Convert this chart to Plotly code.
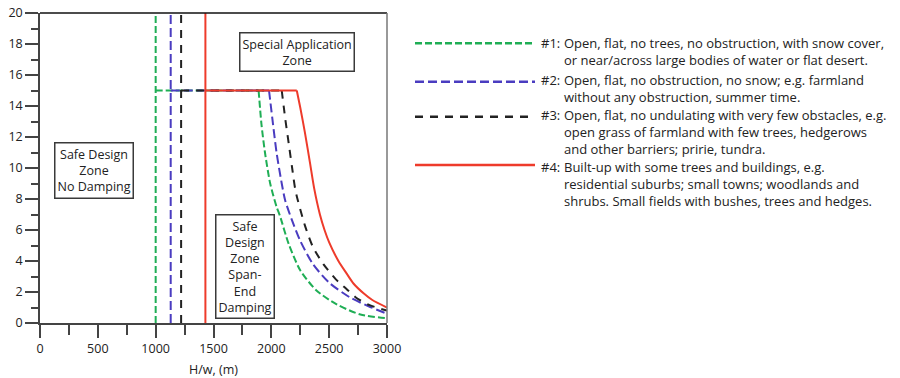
import plotly.graph_objects as go

# ---------------- data ----------------
series_names = ["#1", "#2", "#3", "#4"]
series_colors = ["#1fae55", "#4a3cc0", "#222222", "#ee3b2b"]
series_dash = ["7px,3px", "9px,4px", "8px,7px", "solid"]

# vertical limit (H/w) for each terrain category
vertical_x = [1000, 1130, 1220, 1430]
plateau_y = 15

# decaying curves (start at the knee on the plateau)
green_x = [1890, 1915, 1945, 1990, 2045, 2075, 2150, 2250, 2390, 2565, 2770, 3000]
green_y = [15.0, 12.8, 11.0, 9.0, 7.5, 6.9, 5.1, 3.4, 2.1, 1.2, 0.55, 0.3]

blue_x = [1980, 2015, 2045, 2090, 2120, 2175, 2250, 2360, 2500, 2680, 2850, 3000]
blue_y = [15.0, 12.8, 11.0, 9.0, 7.9, 6.7, 5.3, 3.8, 2.6, 1.65, 1.05, 0.6]

black_x = [2090, 2120, 2150, 2180, 2210, 2290, 2360, 2450, 2560, 2650, 2740, 2850, 3000]
black_y = [15.0, 13.2, 11.6, 10.0, 8.5, 6.3, 4.9, 3.8, 2.8, 2.2, 1.6, 1.15, 0.8]

red_x = [2220, 2250, 2290, 2335, 2370, 2420, 2460, 2500, 2580, 2650, 2710, 2800, 2870, 3000]
red_y = [15.0, 13.9, 12.3, 10.3, 8.7, 7.0, 6.0, 5.2, 4.0, 3.2, 2.55, 1.9, 1.5, 1.0]

curves_x = [green_x, blue_x, black_x, red_x]
curves_y = [green_y, blue_y, black_y, red_y]

legend_texts = [
    "Open, flat, no trees, no obstruction, with snow cover,<br>or near/across large bodies of water or flat desert.",
    "Open, flat, no obstruction, no snow; e.g. farmland<br>without any obstruction, summer time.",
    "Open, flat, no undulating with very few obstacles, e.g.<br>open grass of farmland with few trees, hedgerows<br>and other barriers; pririe, tundra.",
    "Built-up with some trees and buildings, e.g.<br>residential suburbs; small towns; woodlands and<br>shrubs. Small fields with bushes, trees and hedges.",
]

zone_texts = ["Safe Design<br>Zone<br>No Damping",
              "Special Application<br>Zone",
              "Safe<br>Design<br>Zone<br>Span-<br>End<br>Damping"]
zone_x = [471, 2222, 1768]
zone_y = [9.87, 17.5, 3.63]

x_ticks = [0, 500, 1000, 1500, 2000, 2500, 3000]
y_ticks = [0, 2, 4, 6, 8, 10, 12, 14, 16, 18, 20]

FONT = "Open Sans"
TXT = "#222222"

fig = go.Figure()
for i in range(4):
    xv = vertical_x[i]
    # vertical limit, plateau, then decaying curve
    xs = [xv, xv, None, xv, curves_x[i][0], None] + curves_x[i]
    ys = [0, 20, None, plateau_y, curves_y[i][0], None] + curves_y[i]
    fig.add_trace(go.Scatter(
        x=xs, y=ys, mode="lines", name=series_names[i], showlegend=False,
        line=dict(color=series_colors[i], width=2, dash=series_dash[i],
                  shape="spline", smoothing=0.7),
        hoverinfo="skip"))

# plot frame (top and right)
fig.add_shape(type="line", xref="paper", yref="paper", x0=0, x1=1, y0=1, y1=1,
              line=dict(color="#111111", width=1.5))
fig.add_shape(type="line", xref="paper", yref="paper", x0=1, x1=1, y0=0, y1=1,
              line=dict(color="#777777", width=1.5))

# zone labels
for t, x, y in zip(zone_texts, zone_x, zone_y):
    fig.add_annotation(x=x, y=y, xref="x", yref="y", text=t, showarrow=False,
                       font=dict(family=FONT, size=12.5, color=TXT),
                       bgcolor="white", bordercolor="#3a3a3a", borderwidth=1.5,
                       borderpad=2, align="center")

# plot area in page pixels: x 40..387, y 13..323
L, T, W, H = 40, 13, 347, 310
FIG_W, FIG_H = 900, 378
def px(xp):
    return (xp - L) / W
def py(yp):
    return (T + H - yp) / H

row_y = [43.3, 81.7, 116.7, 165.0]
text_top = [33.3, 70.4, 105.0, 156.5]
for i in range(4):
    fig.add_shape(type="line", xref="paper", yref="paper",
                  x0=px(415), x1=px(535), y0=py(row_y[i]), y1=py(row_y[i]),
                  line=dict(color=series_colors[i], width=2.5, dash=series_dash[i]))
    fig.add_annotation(xref="paper", yref="paper", x=px(540), y=py(text_top[i]),
                       xanchor="left", yanchor="top", showarrow=False, borderpad=0,
                       text=series_names[i] + ":",
                       font=dict(family=FONT, size=13, color=TXT))
    fig.add_annotation(xref="paper", yref="paper", x=px(563), y=py(text_top[i]),
                       xanchor="left", yanchor="top", showarrow=False, align="left",
                       borderpad=0, text=legend_texts[i],
                       font=dict(family=FONT, size=13, color=TXT))

axis_common = dict(showgrid=False, zeroline=False, showline=True, linecolor="#444444",
                   linewidth=1.5, ticks="outside", tickcolor="#444444", tickwidth=1.5,
                   automargin=False, ticklabeloverflow="allow",
                   tickfont=dict(family=FONT, size=12.5, color=TXT))

fig.update_xaxes(range=[0, 3000], tickvals=x_ticks, ticklen=13,
                 minor=dict(dtick=250, tick0=0, ticklen=10, ticks="outside",
                            tickcolor="#444444", tickwidth=1.5),
                 title=dict(text="H/w, (m)", font=dict(family=FONT, size=12.5, color=TXT),
                            standoff=10),
                 **axis_common)
fig.update_yaxes(range=[0, 20], tickvals=y_ticks, ticklen=13,
                 minor=dict(dtick=1, tick0=0, ticklen=7, ticks="outside",
                            tickcolor="#444444", tickwidth=1.5),
                 **axis_common)

fig.update_layout(width=FIG_W, height=FIG_H,
                  margin=dict(l=L, r=FIG_W - L - W, t=T, b=FIG_H - T - H),
                  plot_bgcolor="white", paper_bgcolor="white",
                  font=dict(family=FONT, color=TXT), showlegend=False)

fig.write_html("out.html", config={"displayModeBar": False},
               post_script="document.body.style.margin='0';document.body.style.overflow='hidden';")
